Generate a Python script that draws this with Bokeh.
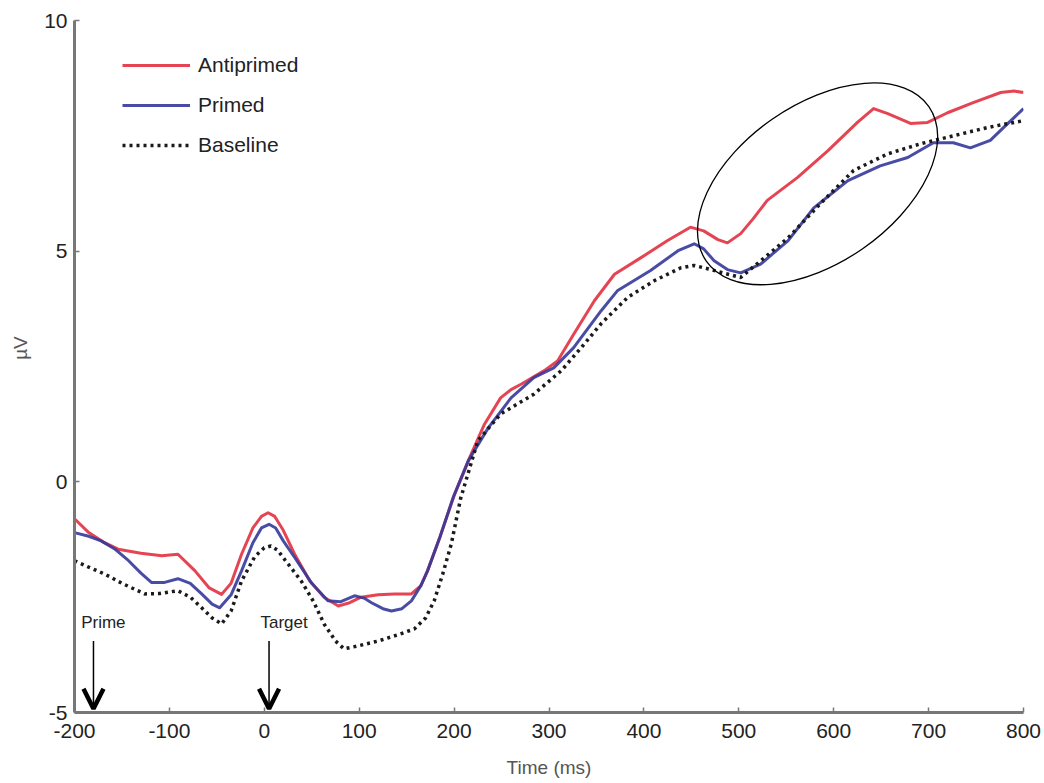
from bokeh.plotting import figure
from bokeh.models import Legend, LegendItem, Range1d, FixedTicker, Arrow, OpenHead, Label
from bokeh.embed import file_html
from bokeh.resources import INLINE

# ---- data ----
anti_t = [-200, -185, -170, -154, -130, -108, -91, -73, -58, -45, -35, -24, -12, -3, 4, 11, 20, 32, 48, 63, 78, 90, 102, 120, 137, 155, 165, 172, 185, 200, 218, 232, 249, 260, 271, 295, 309, 326, 348, 369, 397, 425, 449, 463, 478, 488, 502, 515, 530, 562, 594, 625, 642, 657, 681, 699, 720, 747, 776, 790, 800]
anti_v = [-0.8, -1.1, -1.3, -1.46, -1.55, -1.6, -1.57, -1.93, -2.3, -2.44, -2.2, -1.57, -1.0, -0.75, -0.67, -0.75, -1.05, -1.57, -2.15, -2.5, -2.69, -2.62, -2.5, -2.45, -2.43, -2.43, -2.25, -1.93, -1.2, -0.3, 0.6, 1.25, 1.82, 2.0, 2.12, 2.41, 2.62, 3.2, 3.93, 4.5, 4.86, 5.23, 5.52, 5.44, 5.25, 5.18, 5.38, 5.7, 6.1, 6.6, 7.18, 7.79, 8.09, 7.98, 7.77, 7.79, 8.0, 8.22, 8.44, 8.47, 8.44]

primed_t = [-200, -185, -172, -158, -143, -130, -119, -105, -91, -78, -66, -55, -47, -35, -24, -12, -3, 5, 12, 20, 32, 50, 67, 80, 95, 105, 113, 125, 134, 145, 155, 165, 172, 185, 199, 215, 236, 260, 284, 305, 326, 355, 372, 407, 436, 453, 463, 474, 488, 502, 523, 552, 579, 615, 649, 678, 705, 726, 744, 765, 780, 800]
primed_v = [-1.1, -1.18, -1.28, -1.45, -1.71, -1.98, -2.18, -2.18, -2.1, -2.2, -2.43, -2.65, -2.73, -2.45, -1.93, -1.32, -1.0, -0.92, -1.0, -1.28, -1.64, -2.2, -2.58, -2.6, -2.47, -2.52, -2.62, -2.75, -2.8, -2.75, -2.58, -2.25, -1.93, -1.2, -0.34, 0.46, 1.17, 1.82, 2.26, 2.47, 2.91, 3.71, 4.14, 4.58, 5.01, 5.16, 5.05, 4.79, 4.6, 4.53, 4.72, 5.23, 5.94, 6.53, 6.85, 7.03, 7.35, 7.35, 7.24, 7.4, 7.7, 8.09]

base_t = [-200, -185, -168, -150, -126, -110, -91, -78, -66, -55, -45, -35, -24, -10, 0, 7, 14, 22, 39, 52, 63, 75, 84, 100, 120, 140, 158, 170, 179, 188, 197, 207, 225, 249, 284, 313, 334, 355, 383, 411, 439, 453, 467, 485, 502, 523, 552, 586, 621, 657, 692, 726, 762, 800]
base_v = [-1.71, -1.85, -2.0, -2.2, -2.43, -2.42, -2.36, -2.5, -2.73, -2.95, -3.08, -2.8, -2.15, -1.62, -1.43, -1.39, -1.48, -1.7, -2.15, -2.6, -3.08, -3.45, -3.62, -3.55, -3.45, -3.32, -3.19, -2.95, -2.58, -2.0, -1.35, -0.35, 0.89, 1.47, 1.9, 2.41, 2.91, 3.43, 4.0, 4.36, 4.64, 4.69, 4.62, 4.52, 4.43, 4.79, 5.29, 6.03, 6.75, 7.11, 7.33, 7.5, 7.68, 7.83]

x_ticks = [-200, -100, 0, 100, 200, 300, 400, 500, 600, 700, 800]
y_ticks = [-5, 0, 5, 10]

# annotations
prime_t, target_t = -180, 5
arrow_top, arrow_bottom = -3.45, -4.92
ellipse_center = (583, 6.46)

RED = "#e2303f"
BLUE = "#35399a"
FONT = "Liberation Sans"

p = figure(width=1044, height=783, output_backend="svg", toolbar_location=None,
           x_range=Range1d(-200, 800), y_range=Range1d(-5, 10),
           min_border_left=74, min_border_right=21, min_border_top=20, min_border_bottom=71)
p.outline_line_color = None
p.xgrid.visible = False
p.ygrid.visible = False

r_anti = p.line(anti_t, anti_v, line_color=RED, line_width=3, line_alpha=0.9, line_join="round")
r_prim = p.line(primed_t, primed_v, line_color=BLUE, line_width=3, line_alpha=0.9, line_join="round")
r_base = p.line(base_t, base_v, line_color="#1a1a1a", line_width=3.5, line_dash="3 4")

# ellipse highlight
p.ellipse(x=[ellipse_center[0]], y=[ellipse_center[1]], width=271, height=158, angle=0.607,
          width_units="screen", height_units="screen", fill_color=None, line_color="black", line_width=1.3)

# arrows
for t in (prime_t, target_t):
    p.add_layout(Arrow(x_start=t, y_start=arrow_top, x_end=t, y_end=arrow_bottom,
                       line_width=1.5, line_color="black",
                       end=OpenHead(size=20, line_width=4.5, line_color="black")))
p.add_layout(Label(x=-193, y=-3.04, text="Prime", text_font=FONT, text_font_size="17px",
                   text_baseline="middle", text_color="#222"))
p.add_layout(Label(x=-4, y=-3.04, text="Target", text_font=FONT, text_font_size="17px",
                   text_baseline="middle", text_color="#222"))

# axes
for ax in (p.xaxis[0], p.yaxis[0]):
    ax.major_tick_in = 5
    ax.major_tick_out = 0
    ax.minor_tick_line_color = None
    ax.axis_line_color = "#777777"
    ax.axis_line_width = 3
    ax.major_tick_line_color = "#777777"
    ax.major_tick_line_width = 1.5
    ax.major_label_text_font = FONT
    ax.major_label_text_font_size = "21px"
    ax.major_label_text_color = "#222"
    ax.axis_label_text_font = FONT
    ax.axis_label_text_font_size = "19px"
    ax.axis_label_text_font_style = "normal"
    ax.axis_label_text_color = "#555"
p.xaxis.ticker = FixedTicker(ticks=x_ticks)
p.yaxis.ticker = FixedTicker(ticks=y_ticks)
p.xaxis.major_label_overrides = {t: str(t) for t in x_ticks}
p.yaxis.major_label_overrides = {t: str(t) for t in y_ticks}
p.xaxis.axis_label = "Time (ms)"
# leading no-break spaces lift the rotated title a little above the middle, as in the reference
p.yaxis.axis_label = "\u00a0" * 7 + "µV"
p.xaxis.major_label_standoff = 11
p.yaxis.major_label_standoff = 7
p.xaxis.axis_label_standoff = 16
p.yaxis.axis_label_standoff = 10

legend = Legend(items=[LegendItem(label="Antiprimed", renderers=[r_anti]),
                       LegendItem(label="Primed", renderers=[r_prim]),
                       LegendItem(label="Baseline", renderers=[r_base])],
                location=(48, 555), border_line_color=None, background_fill_alpha=0,
                padding=0, margin=0, spacing=16, glyph_width=68, glyph_height=24,
                label_height=24, label_standoff=8, label_text_font=FONT,
                label_text_font_size="21px", label_text_color="#222")
p.add_layout(legend)

open("out.html", "w").write(file_html(p, INLINE))
